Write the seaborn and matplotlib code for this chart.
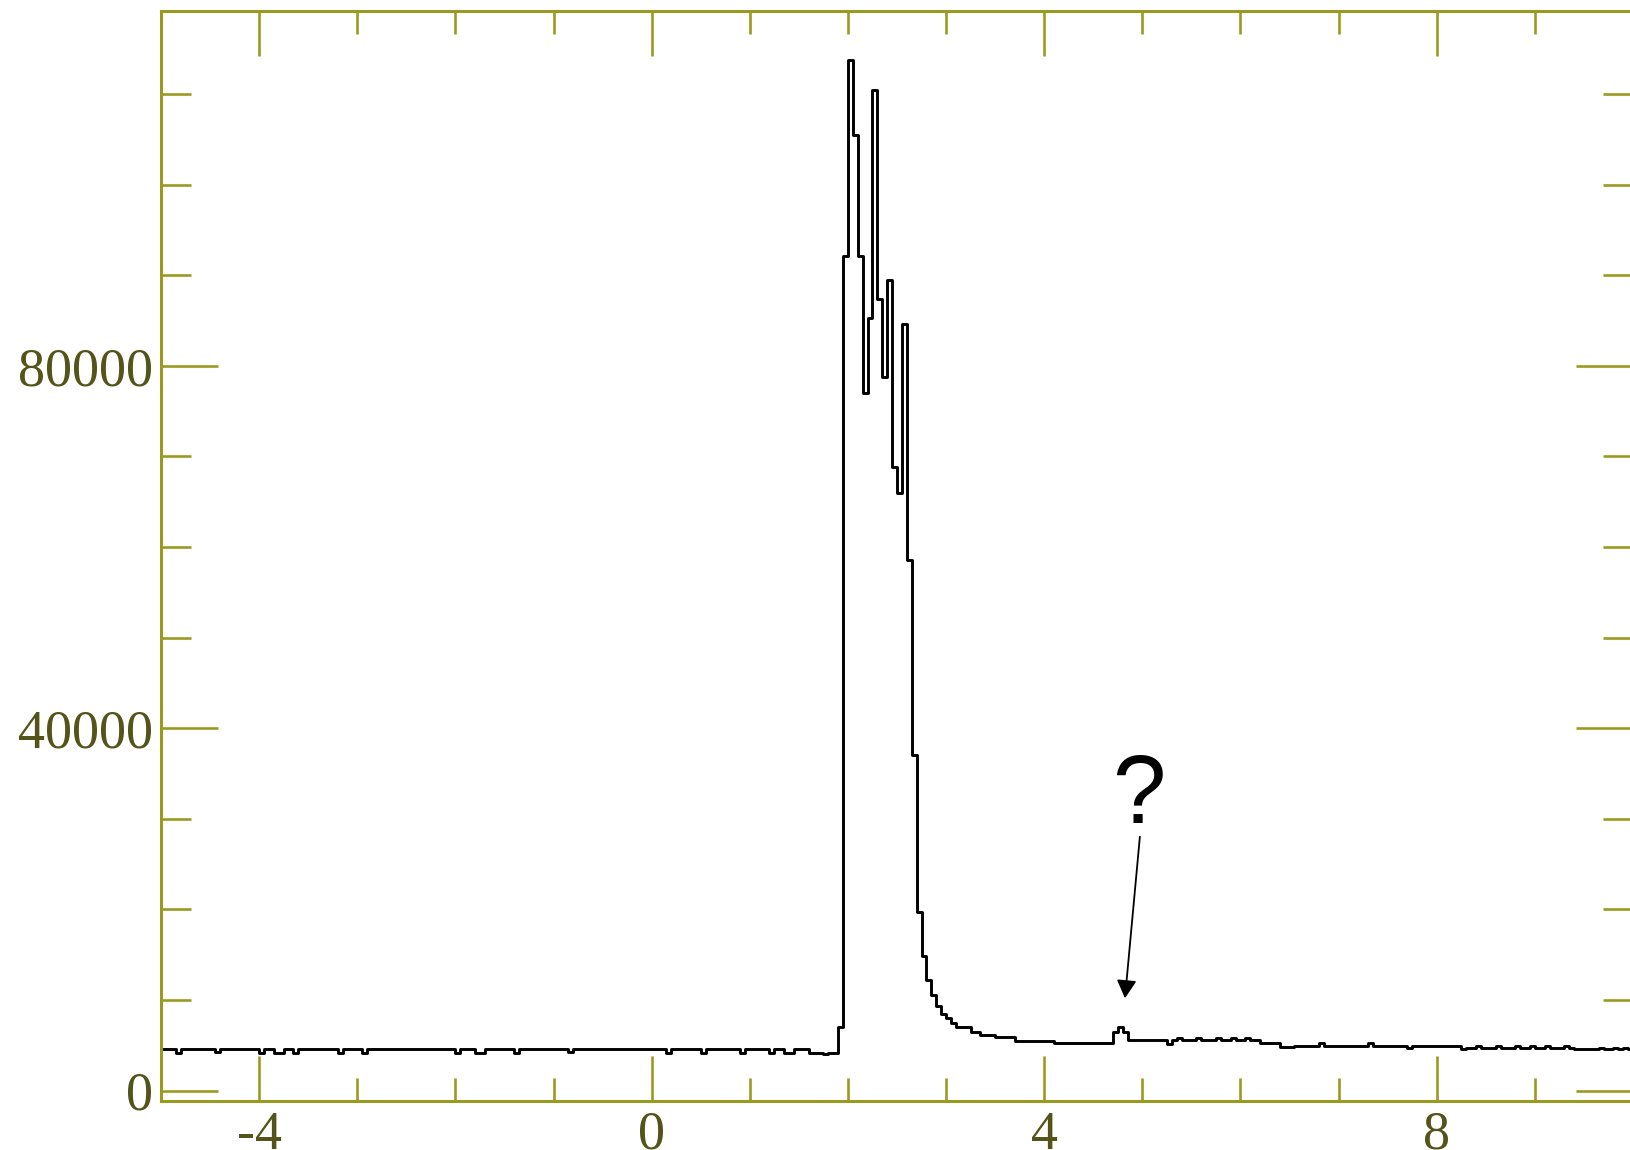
import numpy as np
import pandas as pd
import matplotlib
matplotlib.use("Agg")
import matplotlib.pyplot as plt
from matplotlib.ticker import MultipleLocator
import seaborn as sns

# Histogram binning: 0.05-wide bins spanning -5 .. 10
X_START, X_STOP = -5.0, 10.0

# Counts per bin, one list per unit interval of x (20 bins each)
counts_m5 = [4600, 4600, 4600, 4200, 4600, 4600, 4600, 4600, 4600, 4600,
             4600, 4250, 4600, 4600, 4600, 4600, 4600, 4600, 4600, 4600]
counts_m4 = [4200, 4600, 4600, 4200, 4200, 4600, 4600, 4200, 4600, 4600,
             4600, 4600, 4600, 4600, 4600, 4600, 4200, 4600, 4600, 4600]
counts_m3 = [4600, 4200, 4600, 4600, 4600, 4600, 4600, 4600, 4600, 4600,
             4600, 4600, 4600, 4600, 4600, 4600, 4600, 4600, 4600, 4600]
counts_m2 = [4200, 4600, 4600, 4600, 4200, 4200, 4600, 4600, 4600, 4600,
             4600, 4600, 4200, 4600, 4600, 4600, 4600, 4600, 4600, 4600]
counts_m1 = [4600, 4600, 4600, 4250, 4600, 4600, 4600, 4600, 4600, 4600,
             4600, 4600, 4600, 4600, 4600, 4600, 4600, 4600, 4600, 4600]
counts_p0 = [4600, 4600, 4600, 4200, 4600, 4600, 4600, 4600, 4600, 4600,
             4200, 4600, 4600, 4600, 4600, 4600, 4600, 4600, 4200, 4600]
counts_p1 = [4600, 4600, 4600, 4600, 4200, 4600, 4600, 4200, 4200, 4600,
             4600, 4600, 4200, 4200, 4200, 4050, 4200, 4200, 7000, 92160]
counts_p2 = [113760, 105490, 92160, 76980, 85250, 110450, 87350, 78740, 89480, 68870,
             66000, 84590, 58570, 37050, 19760, 14870, 12220, 10560, 9350, 8470]
counts_p3 = [7990, 7510, 7060, 7060, 7060, 6510, 6510, 6150, 6150, 6150,
             5890, 5890, 5890, 5890, 5520, 5520, 5520, 5520, 5520, 5520]
counts_p4 = [5520, 5520, 5230, 5230, 5230, 5230, 5230, 5230, 5230, 5230,
             5230, 5230, 5230, 5230, 6510, 7060, 6510, 5560, 5560, 5560]
counts_p5 = [5560, 5560, 5560, 5560, 5560, 5100, 5560, 5800, 5560, 5560,
             5560, 5800, 5560, 5560, 5560, 5800, 5560, 5560, 5800, 5560]
counts_p6 = [5560, 5800, 5560, 5560, 5230, 5230, 5230, 5230, 4860, 4860,
             4860, 4930, 4930, 4930, 4930, 4930, 5230, 4930, 4930, 4930]
counts_p7 = [4930, 4930, 4930, 4930, 4930, 4930, 5230, 4930, 4930, 4930,
             4930, 4930, 4930, 4930, 4700, 4930, 4930, 4930, 4930, 4930]
counts_p8 = [4930, 4930, 4930, 4930, 4930, 4650, 4680, 4680, 4930, 4680,
             4680, 4680, 4930, 4680, 4680, 4680, 4930, 4680, 4680, 4930]
counts_p9 = [4680, 4680, 4930, 4680, 4680, 4680, 4930, 4680, 4550, 4550,
             4550, 4550, 4550, 4700, 4550, 4550, 4700, 4550, 4700, 4550]

counts = (counts_m5 + counts_m4 + counts_m3 + counts_m2 + counts_m1 +
          counts_p0 + counts_p1 + counts_p2 + counts_p3 + counts_p4 +
          counts_p5 + counts_p6 + counts_p7 + counts_p8 + counts_p9)

edges = [round(float(e), 4) for e in np.linspace(X_START, X_STOP, len(counts) + 1)]
centers = [(a + b) / 2 for a, b in zip(edges[:-1], edges[1:])]
df = pd.DataFrame({"x": centers, "count": counts})

# Annotated feature
note_text = "?"
note_text_pos = (4.965, 29550)
note_arrow_tail = (4.975, 28030)
note_arrow_tip = (4.823, 10200)

AXIS_COLOR = "#9a9a22"
LABEL_COLOR = "#53531a"

sns.set_theme(style="white")
plt.rcParams["font.family"] = ["Liberation Serif", "DejaVu Serif"]
plt.rcParams["axes.unicode_minus"] = False

fig = plt.figure(figsize=(16.3, 11.5), dpi=100)
ax = fig.add_axes([161 / 1630, 49 / 1150, 1472 / 1630, 1090 / 1150])

sns.histplot(data=df, x="x", weights="count", bins=edges, element="step",
             fill=False, color="black", linewidth=2.1, ax=ax)

ax.set_xlim(X_START, X_STOP)
ax.set_ylim(-1140, 119170)
ax.set_xlabel("")
ax.set_ylabel("")

ax.xaxis.set_major_locator(MultipleLocator(4))
ax.xaxis.set_minor_locator(MultipleLocator(1))
ax.yaxis.set_major_locator(MultipleLocator(40000))
ax.yaxis.set_minor_locator(MultipleLocator(10000))

ax.tick_params(which="both", direction="in", top=True, right=True,
               bottom=True, left=True,
               color=AXIS_COLOR, labelcolor=LABEL_COLOR, width=1.9)
ax.tick_params(axis="x", which="major", length=32.4, labelsize=39, pad=6.5)
ax.tick_params(axis="x", which="minor", length=16.6)
ax.tick_params(axis="y", which="major", length=41, labelsize=39, pad=6.0)
ax.tick_params(axis="y", which="minor", length=21.6)

for side in ["left", "right", "top", "bottom"]:
    ax.spines[side].set_color(AXIS_COLOR)
    ax.spines[side].set_linewidth(2.2)

ax.text(note_text_pos[0], note_text_pos[1], note_text, ha="center", va="baseline",
        fontsize=69, color="black", family=["Liberation Sans", "DejaVu Sans"])
ax.annotate("", xy=note_arrow_tip, xytext=note_arrow_tail,
            arrowprops=dict(arrowstyle="-|>,head_length=0.55,head_width=0.3",
                            mutation_scale=20, lw=1.3, color="black",
                            shrinkA=0, shrinkB=0))

fig.savefig("out.png", dpi=100)
